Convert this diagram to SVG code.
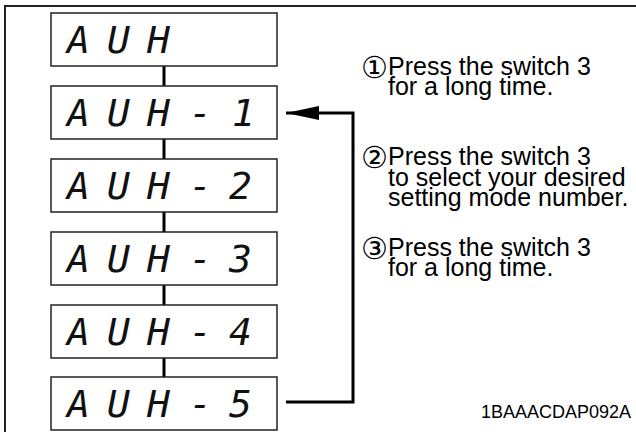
<svg xmlns="http://www.w3.org/2000/svg" width="636" height="432" viewBox="0 0 636 432">
<defs>
<style>
.box{fill:#fff;stroke:#222;stroke-width:1.5}
.seg{font-family:"DejaVu Sans Mono",monospace;font-style:oblique;font-size:38px;fill:#111}
.conn{stroke:#000;stroke-width:3;fill:none}
.txt{font-family:"Liberation Sans",Arial,sans-serif;font-size:25px;fill:#000}
.num{font-family:"DejaVu Sans",sans-serif;font-size:30px;fill:#000}
.code{font-family:"Liberation Sans",Arial,sans-serif;font-size:18px;fill:#000}
</style>
<marker id="ah" viewBox="0 0 33 14" refX="33" refY="7" markerWidth="33" markerHeight="14" markerUnits="userSpaceOnUse" orient="auto">
<path d="M0,0 L33,7 L0,14 z" fill="#000"/>
</marker>
</defs>
<rect width="636" height="432" fill="#fff"/>
<path d="M5,432 V6 H636" fill="none" stroke="#222" stroke-width="2"/>
<g id="connectors">
<line class="conn" x1="164" y1="66" x2="164" y2="86"/>
<line class="conn" x1="164" y1="139" x2="164" y2="159"/>
<line class="conn" x1="164" y1="212" x2="164" y2="232"/>
<line class="conn" x1="164" y1="285" x2="164" y2="305"/>
<line class="conn" x1="164" y1="358" x2="164" y2="377"/>
<polyline class="conn" points="286,402 353,402 353,113 286,113" marker-end="url(#ah)"/>
</g>
<g id="n0"><rect class="box" x="51" y="13" width="226" height="53"/><text class="seg" x="67 107 147" y="53">AUH</text></g>
<g id="n1"><rect class="box" x="51" y="86" width="226" height="53"/><text class="seg" x="67 107 147 189 232" y="126">AUH-1</text></g>
<g id="n2"><rect class="box" x="51" y="159" width="226" height="53"/><text class="seg" x="67 107 147 189 229" y="199">AUH-2</text></g>
<g id="n3"><rect class="box" x="51" y="232" width="226" height="53"/><text class="seg" x="67 107 147 189 229" y="272">AUH-3</text></g>
<g id="n4"><rect class="box" x="51" y="305" width="226" height="53"/><text class="seg" x="67 107 147 189 229" y="345">AUH-4</text></g>
<g id="n5"><rect class="box" x="51" y="377" width="226" height="53"/><text class="seg" x="67 107 147 189 229" y="417">AUH-5</text></g>
<g id="step1">
<text class="num" x="361" y="78">①</text>
<text class="txt" x="388" y="75">Press the switch 3<tspan x="388" y="95">for a long time.</tspan></text>
</g>
<g id="step2">
<text class="num" x="361" y="168">②</text>
<text class="txt" x="388" y="165">Press the switch 3<tspan x="388" y="186">to select your desired</tspan><tspan x="388" y="206">setting mode number.</tspan></text>
</g>
<g id="step3">
<text class="num" x="361" y="259">③</text>
<text class="txt" x="388" y="256">Press the switch 3<tspan x="388" y="276">for a long time.</tspan></text>
</g>
<text class="code" x="631" y="418" text-anchor="end">1BAAACDAP092A</text>
</svg>
